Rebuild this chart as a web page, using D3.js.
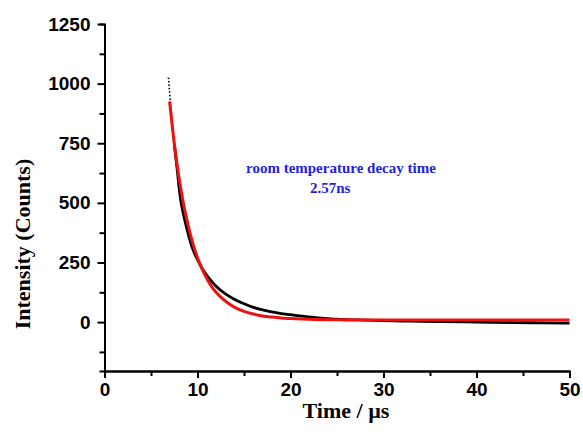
<!DOCTYPE html>
<html>
<head>
<meta charset="utf-8">
<script src="https://cdn.jsdelivr.net/npm/d3@7"></script>
<style>
  body { margin: 0; background: #fff; }
  .tick text { font-family: "Liberation Sans", Arial, sans-serif; font-weight: bold; font-size: 19px; fill: #000; }
  .axis path, .axis line { stroke: #000; stroke-width: 2; }
  .title { font-family: "Liberation Serif", "Times New Roman", serif; font-weight: bold; font-size: 22px; fill: #000; }
  .note { font-family: "Liberation Serif", "Times New Roman", serif; font-weight: bold; font-size: 15px; fill: #1f1fdc; }
</style>
</head>
<body>
<div id="chart"></div>
<script>
const dataTime = [6.88, 6.91, 6.94, 6.97, 7.0, 7.03, 7.06, 7.09, 7.12, 7.15, 7.18, 7.21,
  7.25, 7.3, 7.35, 7.4, 7.45, 7.5, 7.6, 7.7, 7.8, 8.0, 8.2, 8.5, 9.0, 9.5, 10.0, 10.5, 11, 11.5, 12, 13, 14, 15, 16,
  17, 18, 19, 20, 21, 22, 23, 24, 25, 27, 30, 33, 36, 40, 44, 47, 50];
const dataCounts = [1022, 1008, 993, 979, 965, 950, 935, 921, 906, 891, 878, 865,
  848, 826, 806, 786, 766, 748, 712, 678, 646, 570, 510, 450, 370, 305, 262, 225, 196, 172, 150, 118, 95, 77, 62,
  51, 43, 36, 31, 26, 22, 18, 15, 12, 9, 6, 4, 2, 0, -2, -3, -4];

// exponential fit (red line)
const fitTime = [7.0, 7.5, 8.0, 8.5, 9.0, 9.5, 10, 10.5, 11, 11.5, 12, 13, 14, 15, 16, 17, 18, 19, 20, 22, 25, 30, 40, 50];
const fitCounts = [925, 750, 610, 495, 405, 330, 270, 222, 183, 150, 125, 88, 62, 45, 34, 26, 21, 17, 15, 12, 10, 9, 9, 9];

const xMajor = [0, 10, 20, 30, 40, 50];
const xMinor = [5, 15, 25, 35, 45];
const yMajor = [0, 250, 500, 750, 1000, 1250];
const yMinor = [-125, 125, 375, 625, 875, 1125];

const width = 583, height = 432;

const svg = d3.select("#chart").append("svg")
  .attr("width", width)
  .attr("height", height);

const x = d3.scaleLinear().domain([0, 50]).range([104.5, 569.5]);
const y = d3.scaleLinear().domain([-205, 1250]).range([371, 24]);

// minor ticks first, then major with labels
svg.append("g").attr("class", "axis")
  .attr("transform", `translate(0,${y.range()[0]})`)
  .call(d3.axisBottom(x).tickValues(xMinor).tickSize(5).tickFormat(""));
svg.append("g").attr("class", "axis")
  .attr("transform", `translate(0,${y.range()[0]})`)
  .call(d3.axisBottom(x).tickValues(xMajor).tickSize(7).tickSizeOuter(0).tickPadding(5).tickFormat(d3.format("d")));

svg.append("g").attr("class", "axis")
  .attr("transform", `translate(${x.range()[0]},0)`)
  .call(d3.axisLeft(y).tickValues(yMinor).tickSize(5).tickFormat(""));
svg.append("g").attr("class", "axis")
  .attr("transform", `translate(${x.range()[0]},0)`)
  .call(d3.axisLeft(y).tickValues(yMajor).tickSize(7).tickSizeOuter(0).tickPadding(7).tickFormat(d3.format("d")));

// measured data
const pts = dataTime.map((t, i) => [t, dataCounts[i]]);
const line = d3.line().x(d => x(d[0])).y(d => y(d[1])).curve(d3.curveMonotoneX);

svg.append("path")
  .datum(pts.filter(d => d[0] >= 7.5))
  .attr("d", line)
  .attr("fill", "none")
  .attr("stroke", "#000")
  .attr("stroke-width", 2.8);

svg.selectAll(".dot")
  .data(pts.filter(d => d[0] < 7.6))
  .enter()
  .append("rect")
  .attr("class", "dot")
  .attr("x", d => x(d[0]) - 0.8)
  .attr("y", d => y(d[1]) - 0.8)
  .attr("width", 1.6)
  .attr("height", 1.6)
  .attr("fill", "#000");

// fit
const fit = fitTime.map((t, i) => [t, fitCounts[i]]);
svg.append("path")
  .datum(fit)
  .attr("d", line)
  .attr("fill", "none")
  .attr("stroke", "#ee1111")
  .attr("stroke-width", 3);

// labels
svg.append("text")
  .attr("class", "title")
  .attr("x", 346)
  .attr("y", 418)
  .attr("text-anchor", "middle")
  .text("Time / µs");

svg.append("text")
  .attr("class", "title")
  .attr("transform", "translate(30,244) rotate(-90)")
  .attr("text-anchor", "middle")
  .text("Intensity (Counts)");

svg.append("text")
  .attr("class", "note")
  .attr("x", 246)
  .attr("y", 173)
  .text("room temperature decay time");

svg.append("text")
  .attr("class", "note")
  .attr("x", 310)
  .attr("y", 193)
  .text("2.57ns");
</script>
</body>
</html>
